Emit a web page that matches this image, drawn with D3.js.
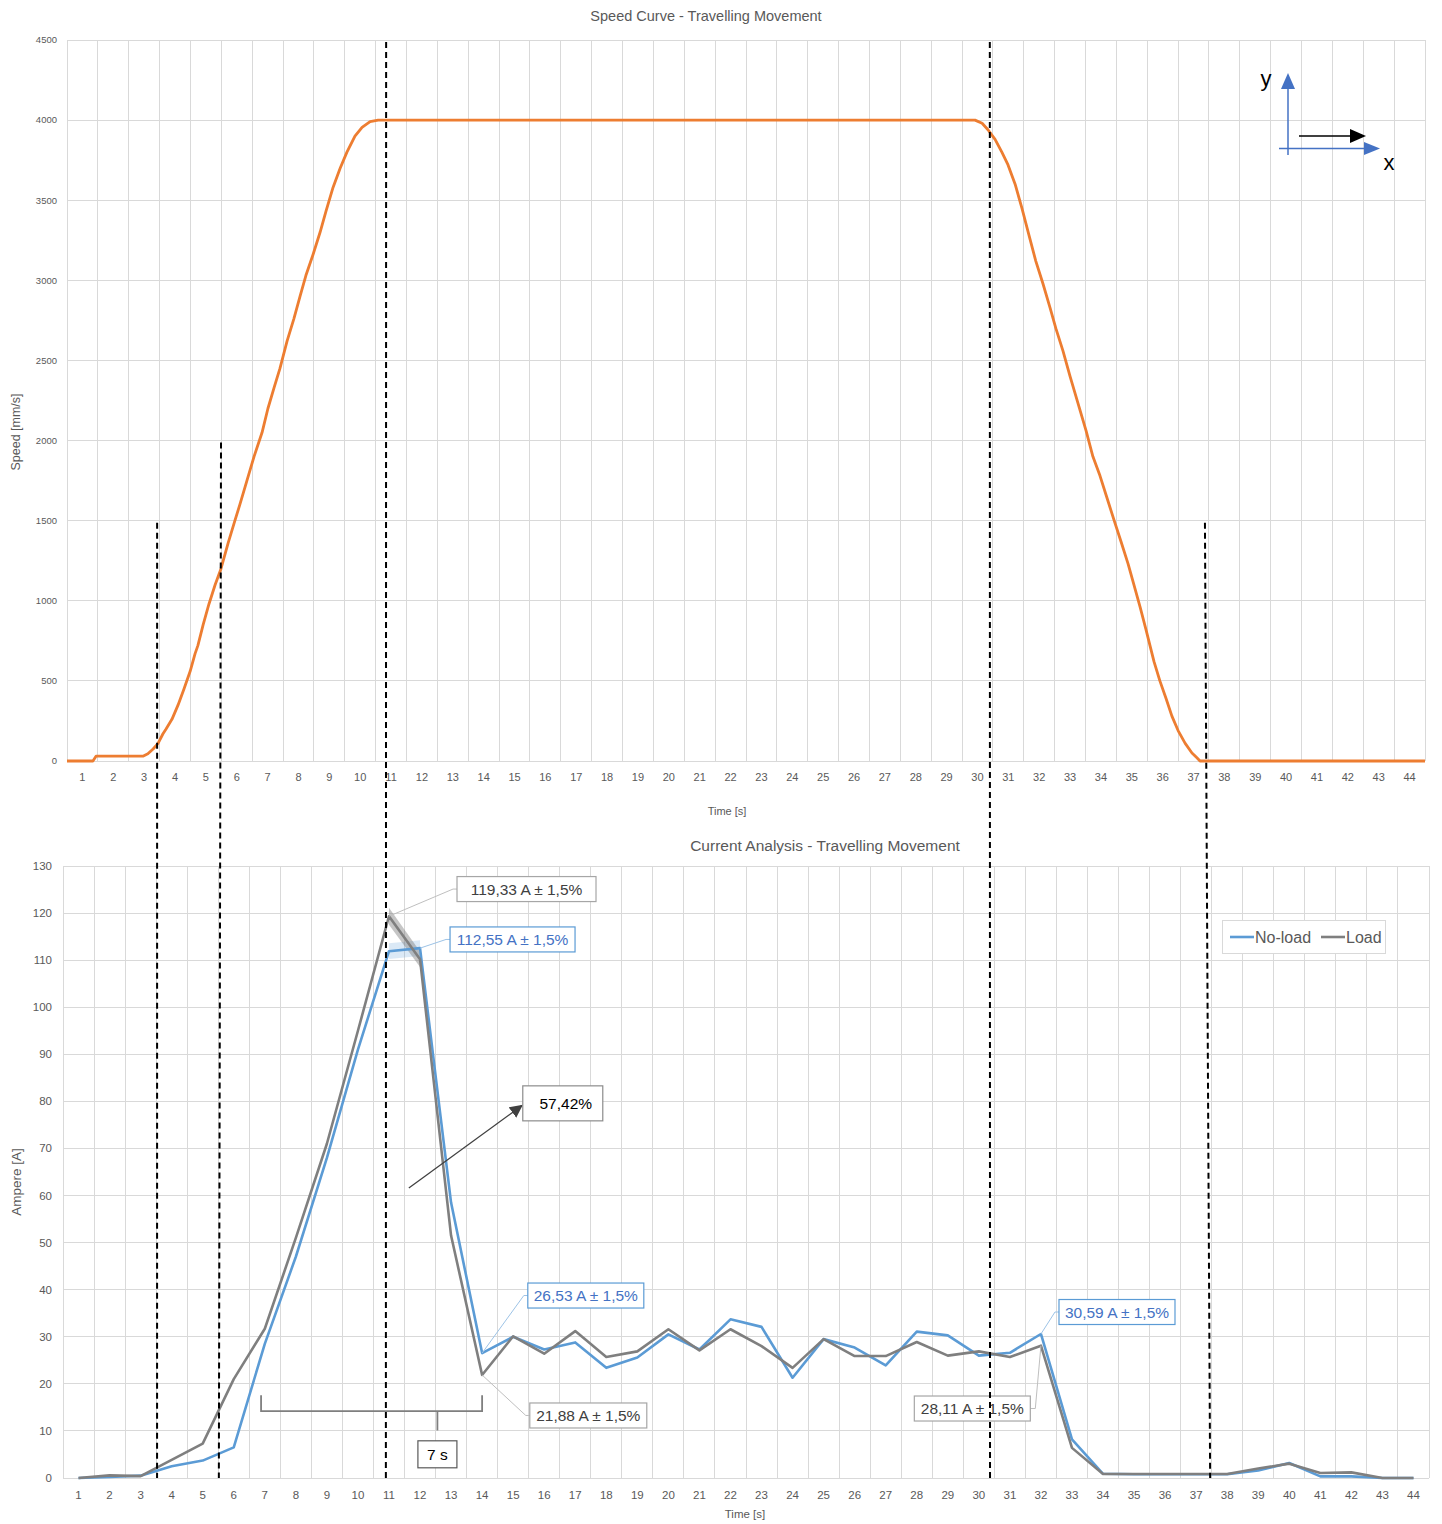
<!DOCTYPE html>
<html>
<head>
<meta charset="utf-8">
<script src="https://cdn.jsdelivr.net/npm/d3@7"></script>
<style>
  body { margin: 0; background: #fff; }
  svg { display: block; }
  text { font-family: "Liberation Sans", Arial, sans-serif; }
</style>
</head>
<body>
<svg id="chart" width="1442" height="1524"></svg>
<script>
// ---------- Speed curve data (time in s, speed in mm/s) ----------
const speedTime = [0, 0.84, 0.94, 2.46, 2.62, 2.79, 2.95, 3.11, 3.21, 3.4, 3.6, 3.79, 3.99, 4.15, 4.24,
  4.41, 4.6, 4.8, 4.99, 5.22, 5.44, 5.6, 5.83, 6.06, 6.32, 6.51, 6.71, 6.9, 7.13, 7.35, 7.55, 7.74,
  7.97, 8.2, 8.39, 8.62, 8.85, 9.07, 9.33, 9.56, 9.82, 10.08, 29.42, 29.65, 29.84, 30.07, 30.29,
  30.49, 30.72, 30.94, 31.17, 31.39, 31.62, 31.85, 32.04, 32.27, 32.5, 32.76, 33.02, 33.24, 33.47,
  33.7, 33.93, 34.15, 34.38, 34.57, 34.77, 34.96, 35.09, 35.22, 35.41, 35.61, 35.8, 36.0, 36.23,
  36.45, 36.61, 36.71, 44];
const speedValue = [0, 0, 30, 30, 45, 75, 110, 170, 200, 260, 350, 450, 560, 670, 720,
  850, 980, 1100, 1200, 1360, 1500, 1600, 1750, 1900, 2050, 2200, 2330, 2450, 2620, 2760, 2900, 3030,
  3160, 3300, 3430, 3580, 3700, 3800, 3900, 3955, 3990, 4000, 4000, 3980, 3940, 3880, 3800,
  3720, 3600, 3450, 3280, 3120, 2980, 2830, 2700, 2560, 2400, 2230, 2060, 1900, 1780,
  1640, 1500, 1370, 1230, 1100, 960, 820, 720, 620, 500, 390, 280, 190, 110,
  50, 20, 0, 0];
const speedTicks = d3.range(0, 4501, 500);
const speedSeconds = d3.range(1, 45);

// ---------- Current data (A per second) ----------
const currentSeconds = d3.range(1, 45);
const noLoadCurrent = [0, 0.2, 0.5, 2.5, 3.7, 6.5, 28.5, 47, 68, 91, 111.9, 112.55, 58.5, 26.53,
  30, 27.3, 28.8, 23.4, 25.6, 30.5, 27.3, 33.7, 32.1, 21.3, 29.5, 27.7, 23.9, 31.1, 30.3, 26.0,
  26.6, 30.59, 8.2, 0.9, 0.8, 0.8, 0.8, 0.8, 1.6, 3.2, 0.35, 0.35, 0, 0];
const loadCurrent = [0, 0.55, 0.4, 3.85, 7.3, 21.0, 31.7, 51, 71, 95, 119.33, 110.2, 51.5, 21.88,
  30.1, 26.4, 31.2, 25.7, 26.9, 31.6, 27.1, 31.6, 28.0, 23.4, 29.5, 25.9, 25.9, 28.9, 26.0, 26.9,
  25.7, 28.11, 6.4, 0.85, 0.85, 0.85, 0.85, 0.85, 2.0, 3.05, 1.06, 1.2, 0, 0];
const currentTicks = d3.range(0, 131, 10);
const seriesNames = ["No-load", "Load"];
const tolerance = 0.015;

// ---------- Layout ----------
const svg = d3.select("#chart");
const gridColor = "#D9D9D9";
const axisText = "#595959";
const blue = "#5B9BD5", grey = "#7F7F7F", orange = "#ED7D31";

// Speed chart scales
const xSpeed = d3.scaleLinear().domain([0, 44]).range([67, 1425]);
const ySpeed = d3.scaleLinear().domain([0, 4500]).range([761, 40]);

// Current chart scales
const xBand = d3.scaleBand().domain(currentSeconds).range([63, 1429]).paddingInner(0).paddingOuter(0);
const xCur = d3.scaleLinear().domain([0.5, 44.5]).range([63, 1429]);
const yCur = d3.scaleLinear().domain([0, 130]).range([1478, 866]);

// ================= Speed chart =================
const gS = svg.append("g");

gS.append("g").selectAll("line.v").data(d3.range(0, 45)).join("line")
  .attr("x1", d => xSpeed(d)).attr("x2", d => xSpeed(d))
  .attr("y1", ySpeed(4500)).attr("y2", ySpeed(0))
  .attr("stroke", gridColor).attr("stroke-width", 1).attr("shape-rendering", "crispEdges");
gS.append("g").selectAll("line.h").data(speedTicks).join("line")
  .attr("x1", xSpeed(0)).attr("x2", xSpeed(44))
  .attr("y1", d => ySpeed(d)).attr("y2", d => ySpeed(d))
  .attr("stroke", gridColor).attr("stroke-width", 1).attr("shape-rendering", "crispEdges");

gS.append("g").selectAll("text").data(speedTicks).join("text")
  .attr("x", 57).attr("y", d => ySpeed(d)).attr("dy", "0.35em")
  .attr("text-anchor", "end").attr("font-size", 9.5).attr("fill", axisText)
  .text(d => d);

gS.append("g").selectAll("text").data(speedSeconds).join("text")
  .attr("x", d => xSpeed(d - 0.5)).attr("y", 781)
  .attr("text-anchor", "middle").attr("font-size", 11).attr("fill", axisText)
  .text(d => d);

gS.append("text").attr("x", 706).attr("y", 21).attr("text-anchor", "middle")
  .attr("font-size", 14.5).attr("fill", axisText).text("Speed Curve - Travelling Movement");
gS.append("text").attr("x", 727).attr("y", 815).attr("text-anchor", "middle")
  .attr("font-size", 11).attr("fill", axisText).text("Time [s]");
gS.append("text").attr("transform", "translate(20,432) rotate(-90)").attr("text-anchor", "middle")
  .attr("font-size", 12.5).attr("fill", axisText).text("Speed [mm/s]");

gS.append("path")
  .datum(speedTime.map((t, i) => [t, speedValue[i]]))
  .attr("fill", "none").attr("stroke", orange).attr("stroke-width", 2.8)
  .attr("stroke-linejoin", "round")
  .attr("d", d3.line().x(d => xSpeed(d[0])).y(d => ySpeed(d[1])));

// Axis orientation sketch (y up, x right, travel direction)
const icon = gS.append("g");
const iconBlue = "#4472C4";
icon.append("line").attr("x1", 1288).attr("y1", 155).attr("x2", 1288).attr("y2", 86)
  .attr("stroke", iconBlue).attr("stroke-width", 1.5);
icon.append("path").attr("d", "M1281,89 L1288,73 L1295,89 Z").attr("fill", iconBlue);
icon.append("line").attr("x1", 1279).attr("y1", 148.5).attr("x2", 1366).attr("y2", 148.5)
  .attr("stroke", iconBlue).attr("stroke-width", 1.5);
icon.append("path").attr("d", "M1364,142 L1380,148.5 L1364,155 Z").attr("fill", iconBlue);
icon.append("line").attr("x1", 1299).attr("y1", 136).attr("x2", 1352).attr("y2", 136)
  .attr("stroke", "#000").attr("stroke-width", 1.5);
icon.append("path").attr("d", "M1350,129 L1366,136 L1350,143 Z").attr("fill", "#000");
icon.append("text").attr("x", 1266).attr("y", 86).attr("text-anchor", "middle")
  .attr("font-size", 22).attr("fill", "#000").text("y");
icon.append("text").attr("x", 1389).attr("y", 170).attr("text-anchor", "middle")
  .attr("font-size", 22).attr("fill", "#000").text("x");

// ================= Current chart =================
const gC = svg.append("g");

gC.append("g").selectAll("line").data(d3.range(0, 45)).join("line")
  .attr("x1", d => xCur(d + 0.5)).attr("x2", d => xCur(d + 0.5))
  .attr("y1", yCur(130)).attr("y2", yCur(0))
  .attr("stroke", gridColor).attr("stroke-width", 1).attr("shape-rendering", "crispEdges");
gC.append("g").selectAll("line").data(currentTicks).join("line")
  .attr("x1", xCur(0.5)).attr("x2", xCur(44.5))
  .attr("y1", d => yCur(d)).attr("y2", d => yCur(d))
  .attr("stroke", gridColor).attr("stroke-width", 1).attr("shape-rendering", "crispEdges");

gC.append("g").selectAll("text").data(currentTicks).join("text")
  .attr("x", 52).attr("y", d => yCur(d)).attr("dy", "0.35em")
  .attr("text-anchor", "end").attr("font-size", 11.5).attr("fill", axisText)
  .text(d => d);
gC.append("g").selectAll("text").data(currentSeconds).join("text")
  .attr("x", d => xBand(d) + xBand.bandwidth() / 2).attr("y", 1499)
  .attr("text-anchor", "middle").attr("font-size", 11.5).attr("fill", axisText)
  .text(d => d);

gC.append("text").attr("x", 825).attr("y", 851).attr("text-anchor", "middle")
  .attr("font-size", 15.5).attr("fill", axisText).text("Current Analysis - Travelling Movement");
gC.append("text").attr("x", 745).attr("y", 1518).attr("text-anchor", "middle")
  .attr("font-size", 11.5).attr("fill", axisText).text("Time [s]");
gC.append("text").attr("transform", "translate(21,1182) rotate(-90)").attr("text-anchor", "middle")
  .attr("font-size", 13.5).attr("fill", axisText).text("Ampere [A]");

const px = s => xBand(s) + xBand.bandwidth() / 2;

// Tolerance bands (±1,5 %) around the peak segment
const peakSpan = [11, 12];
const bandArea = values => d3.area()
  .x(s => px(s))
  .y0(s => yCur(values[s - 1] * (1 - tolerance)))
  .y1(s => yCur(values[s - 1] * (1 + tolerance)));
gC.append("path").datum(peakSpan).attr("d", bandArea(noLoadCurrent))
  .attr("fill", blue).attr("fill-opacity", 0.22);
gC.append("path").datum(peakSpan).attr("d", bandArea(loadCurrent))
  .attr("fill", grey).attr("fill-opacity", 0.45);

const currentLine = values => d3.line().x(s => px(s)).y(s => yCur(values[s - 1]));
gC.append("path").datum(currentSeconds).attr("d", currentLine(noLoadCurrent))
  .attr("fill", "none").attr("stroke", blue).attr("stroke-width", 2.6).attr("stroke-linejoin", "round");
gC.append("path").datum(currentSeconds).attr("d", currentLine(loadCurrent))
  .attr("fill", "none").attr("stroke", grey).attr("stroke-width", 2.6).attr("stroke-linejoin", "round");

// Legend
const legend = gC.append("g");
legend.append("rect").attr("x", 1222.5).attr("y", 920.5).attr("width", 163).attr("height", 33)
  .attr("fill", "#fff").attr("stroke", gridColor);
[[1230, blue, 1255], [1321, grey, 1346]].forEach(([x, c, tx], i) => {
  legend.append("line").attr("x1", x).attr("x2", x + 24).attr("y1", 937).attr("y2", 937)
    .attr("stroke", c).attr("stroke-width", 2.6);
  legend.append("text").attr("x", tx).attr("y", 937).attr("dy", "0.35em")
    .attr("font-size", 16).attr("fill", axisText).text(seriesNames[i]);
});

// Value callouts
const fmt = v => d3.format(".2f")(v).replace(".", ",") + " A ± 1,5%";
const callouts = [
  { s: 11, values: loadCurrent, bc: 15.43, bv: 125.1, w: 139, side: "left", text: "#404040", border: "#A6A6A6", lead: "#BFBFBF" },
  { s: 12, values: noLoadCurrent, bc: 14.98, bv: 114.4, w: 125, side: "left", text: "#4472C4", border: blue, lead: "#9DC3E6" },
  { s: 14, values: noLoadCurrent, bc: 17.34, bv: 38.76, w: 116, side: "left", text: "#4472C4", border: blue, lead: "#9DC3E6" },
  { s: 14, values: loadCurrent, bc: 17.42, bv: 13.28, w: 117, side: "left", text: "#404040", border: "#A6A6A6", lead: "#BFBFBF" },
  { s: 32, values: noLoadCurrent, bc: 34.45, bv: 35.26, w: 116, side: "left", text: "#4472C4", border: blue, lead: "#9DC3E6" },
  { s: 32, values: loadCurrent, bc: 29.79, bv: 14.76, w: 116, side: "right", text: "#404040", border: "#A6A6A6", lead: "#BFBFBF" }
];
const gA = gC.append("g");
callouts.forEach(a => {
  const cx = xCur(a.bc), cy = yCur(a.bv);
  const ex = a.side === "left" ? cx - a.w / 2 : cx + a.w / 2;
  const kx = a.side === "left" ? ex - 4 : ex + 5;
  gA.append("polyline")
    .attr("points", [[ex, cy], [kx, cy], [px(a.s), yCur(a.values[a.s - 1])]].map(p => p.join(",")).join(" "))
    .attr("fill", "none").attr("stroke", a.lead).attr("stroke-width", 1);
  gA.append("rect").attr("x", cx - a.w / 2).attr("y", cy - 12.5).attr("width", a.w).attr("height", 25)
    .attr("fill", "#fff").attr("stroke", a.border).attr("stroke-width", 1.2);
  gA.append("text").attr("x", cx).attr("y", cy).attr("dy", "0.36em").attr("text-anchor", "middle")
    .attr("font-size", 15.5).attr("fill", a.text).text(fmt(a.values[a.s - 1]));
});

// Ramp-up increase arrow
gA.append("defs").append("marker").attr("id", "head").attr("viewBox", "0 0 10 10")
  .attr("refX", 9).attr("refY", 5).attr("markerWidth", 13).attr("markerHeight", 13)
  .attr("markerUnits", "userSpaceOnUse").attr("orient", "auto")
  .append("path").attr("d", "M0,0 L10,5 L0,10 Z").attr("fill", "#404040");
gA.append("line")
  .attr("x1", xCur(11.64)).attr("y1", yCur(61.6))
  .attr("x2", xCur(15.28)).attr("y2", yCur(79.1))
  .attr("stroke", "#404040").attr("stroke-width", 1.3).attr("marker-end", "url(#head)");
const pctBox = { c: 15.31, v: 83.3, w: 80, h: 35 };
gA.append("rect").attr("x", xCur(pctBox.c)).attr("y", yCur(pctBox.v)).attr("width", pctBox.w).attr("height", pctBox.h)
  .attr("fill", "#fff").attr("stroke", "#8C8C8C").attr("stroke-width", 1.2);
gA.append("text").attr("x", xCur(pctBox.c) + pctBox.w / 2 + 3).attr("y", yCur(pctBox.v) + pctBox.h / 2).attr("dy", "0.36em")
  .attr("text-anchor", "middle").attr("font-size", 15.5).attr("fill", "#000").text("57,42%");

// 7 s duration bracket
const bracket = { from: 6.88, to: 14.0, level: 14.2, rise: 17.6, mid: 12.56, drop: 10.1 };
gA.append("polyline")
  .attr("points", [[xCur(bracket.from), yCur(bracket.rise)], [xCur(bracket.from), yCur(bracket.level)],
    [xCur(bracket.to), yCur(bracket.level)], [xCur(bracket.to), yCur(bracket.rise)]].map(p => p.join(",")).join(" "))
  .attr("fill", "none").attr("stroke", grey).attr("stroke-width", 1.8);
gA.append("line").attr("x1", xCur(bracket.mid)).attr("x2", xCur(bracket.mid))
  .attr("y1", yCur(bracket.level)).attr("y2", yCur(bracket.drop))
  .attr("stroke", grey).attr("stroke-width", 1.8);
gA.append("rect").attr("x", xCur(bracket.mid) - 19.5).attr("y", yCur(7.9)).attr("width", 39).attr("height", 27)
  .attr("fill", "#fff").attr("stroke", "#595959").attr("stroke-width", 1.2);
gA.append("text").attr("x", xCur(bracket.mid)).attr("y", yCur(7.9) + 13.5).attr("dy", "0.36em")
  .attr("text-anchor", "middle").attr("font-size", 15.5).attr("fill", "#000").text("7 s");

// Phase markers linking both charts (time on speed chart -> second on current chart)
const phaseMarkers = [
  { t: 2.92, level: 1500, s: 3.53 },
  { t: 4.99, level: 2000, s: 5.52 },
  { t: 10.34, level: 4500, s: 10.9 },
  { t: 29.9, level: 4500, s: 30.36 },
  { t: 36.87, level: 1500, s: 37.45 }
];
svg.append("g").selectAll("line").data(phaseMarkers).join("line")
  .attr("x1", d => xSpeed(d.t)).attr("y1", d => ySpeed(d.level) + 2)
  .attr("x2", d => xCur(d.s)).attr("y2", yCur(0))
  .attr("stroke", "#000").attr("stroke-width", 2).attr("stroke-dasharray", "6,4");
</script>
</body>
</html>
